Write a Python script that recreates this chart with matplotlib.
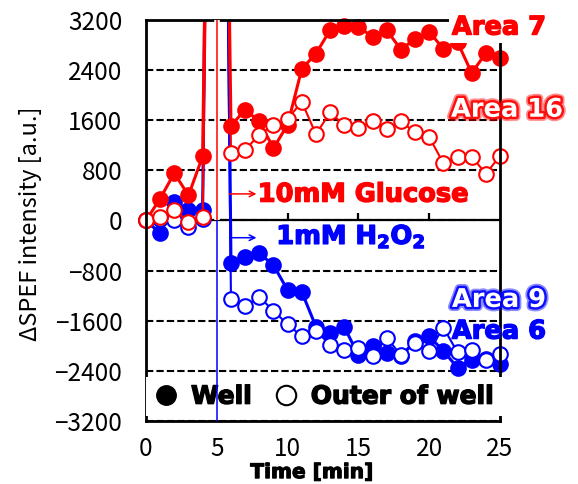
import matplotlib
matplotlib.use("Agg")
import matplotlib.pyplot as plt
import matplotlib.patheffects as pe
from matplotlib.lines import Line2D

# ---- data ----
time_min = list(range(0, 26))
# Area 7 (well, filled red)
area7_well = [0, 350, 755, 400, 1025, 18000, 1512, 1768, 1581, 1155, 1528, 2419, 2664,
              3037, 3112, 3091, 2931, 3037, 2728, 2899, 3011, 2739, 2845, 2355, 2670, 2600]
# Area 16 (outer of well, open red)
area16_outer = [0, 61, 168, -19, 50, 16000, 1085, 1128, 1368, 1528, 1619, 1895, 1376,
                1725, 1520, 1483, 1581, 1459, 1581, 1405, 1331, 915, 1021, 1021, 744, 1032]
# Area 6 (well, filled blue)
area6_well = [0, -205, 301, 168, 168, 22000, -685, -579, -525, -712, -1112, -1139, -1695,
              -1795, -1699, -2152, -2000, -2120, -2170, -1920, -1848, -2083, -2349, -2221, -2210, -2296]
# Area 9 (outer of well, open blue)
area9_outer = [0, 30, 0, -109, 30, 20000, -1261, -1368, -1219, -1443, -1656, -1850, -1760,
               -1985, -2060, -2030, -2170, -1870, -2150, -1960, -2080, -1709, -2105, -2065, -2230, -2130]

yticks = [-3200, -2400, -1600, -800, 0, 800, 1600, 2400, 3200]
xticks = [0, 5, 10, 15, 20, 25]
zero_ticks = [5, 10, 15, 20]
stim_time = 5

RED = "#FF0000"
BLUE = "#0000FF"
TICKFONT = ["Noto Sans CJK JP", "DejaVu Sans"]

def heavy(color, w=1.0):
    return [pe.Stroke(linewidth=w, foreground=color), pe.Normal()]

fig = plt.figure(figsize=(5.78, 4.84), dpi=100)
ax = fig.add_axes([0.2526, 0.1302, 0.6125, 0.8285])
ax.set_xlim(0, 25)
ax.set_ylim(-3200, 3200)

# grid
ax.set_yticks(yticks)
ax.set_xticks(xticks)
ax.grid(axis="y", color="black", lw=1.5, ls=(0, (3.5, 1.5)), zorder=0)
ax.set_axisbelow(True)
ax.axhline(0, color="black", lw=1.6, zorder=1)
ax.vlines(zero_ticks, 0, 115, color="black", lw=1.6, zorder=1)

def series(y, color, filled, lw):
    ax.plot(time_min, y, color=color, lw=lw, zorder=3)
    ax.plot(time_min, y, ls="none", marker="o", ms=10.5,
            mfc=color if filled else "white", mec=color, mew=1.5,
            zorder=3, clip_on=False)

series(area6_well, BLUE, True, 2.2)
series(area9_outer, BLUE, False, 1.5)
series(area7_well, RED, True, 2.2)
series(area16_outer, RED, False, 1.5)

# stimulus lines
stroke = [pe.Stroke(linewidth=4, foreground="white"), pe.Normal()]
ax.vlines([stim_time], 0, 3200, color=RED, lw=1.1, zorder=6, path_effects=stroke)
ax.vlines([stim_time], -3200, 0, color=BLUE, lw=1.1, zorder=6)

# annotations
ax.annotate("", xy=(7.8, 424), xytext=(5.9, 424),
            arrowprops=dict(arrowstyle="->", color=RED, lw=1.1, shrinkA=0, shrinkB=0), zorder=7)
ax.text(7.89, 301, "10mM Glucose", color=RED, fontsize=18.5, fontweight="bold",
        family="DejaVu Sans", ha="left", va="baseline", zorder=7, path_effects=heavy(RED))
ax.annotate("", xy=(7.8, -275), xytext=(5.9, -275),
            arrowprops=dict(arrowstyle="->", color=BLUE, lw=1.1, shrinkA=0, shrinkB=0), zorder=7)
ax.text(9.2, -376, r"1mM H$_\mathbf{2}$O$_\mathbf{2}$", color=BLUE, fontsize=18.5,
        fontweight="bold", family="DejaVu Sans", ha="left", va="baseline", zorder=7,
        path_effects=heavy(BLUE))

# area labels
ax.text(24.93, 2968, "Area 7", color=RED, fontsize=18.5, fontweight="bold", family="DejaVu Sans",
        ha="center", va="baseline", zorder=8, clip_on=False,
        bbox=dict(facecolor="white", edgecolor="none", pad=2), path_effects=heavy(RED))
ax.text(25.5, 1656, "Area 16", color="white", fontsize=18.5, fontweight="bold", family="DejaVu Sans",
        ha="center", va="baseline", zorder=8, clip_on=False,
        path_effects=[pe.Stroke(linewidth=6, foreground=RED, alpha=0.45),
                      pe.Stroke(linewidth=3.5, foreground=RED, alpha=0.9), pe.Normal()])
ax.text(24.93, -1379, "Area 9", color="white", fontsize=18.5, fontweight="bold", family="DejaVu Sans",
        ha="center", va="baseline", zorder=8, clip_on=False,
        path_effects=[pe.Stroke(linewidth=6, foreground=BLUE, alpha=0.45),
                      pe.Stroke(linewidth=3.5, foreground=BLUE, alpha=0.9), pe.Normal()])
ax.text(24.93, -1885, "Area 6", color=BLUE, fontsize=18.5, fontweight="bold", family="DejaVu Sans",
        ha="center", va="baseline", zorder=8, clip_on=False, path_effects=heavy(BLUE))

# legend
handles = [Line2D([], [], ls="none", marker="o", ms=14, mfc="black", mec="black"),
           Line2D([], [], ls="none", marker="o", ms=14, mfc="white", mec="black", mew=1.5)]
leg = ax.legend(handles, ["Well", "Outer of well"], ncol=2, loc="lower left",
                bbox_to_anchor=(0, 0.012), borderaxespad=0.0, borderpad=0.3,
                handlelength=1.0, handletextpad=0.5, columnspacing=0.85,
                frameon=True, fancybox=False, facecolor="white", edgecolor="none", framealpha=1,
                prop=dict(family="DejaVu Sans", weight="bold", size=18))
leg.set_zorder(5)
for t in leg.get_texts():
    t.set_path_effects(heavy("black"))

# spines & ticks
for s in ax.spines.values():
    s.set_linewidth(2)
    s.set_color("black")
    s.set_zorder(4)
ax.tick_params(axis="both", length=0)
ax.tick_params(axis="y", pad=17)
ax.tick_params(axis="x", pad=11)
for lab in ax.get_xticklabels() + ax.get_yticklabels():
    lab.set_family(TICKFONT)
    lab.set_fontsize(17.5)

ax.set_ylabel("ΔSPEF intensity [a.u.]", fontsize=17, family=TICKFONT)
ax.yaxis.set_label_coords(-0.294, 0.4925)
ax.set_xlabel("Time [min]", fontsize=14.5, fontweight="bold", family="DejaVu Sans",
              path_effects=heavy("black", 0.8))
ax.xaxis.set_label_coords(0.469, -0.105)

fig.savefig("out.png", dpi=100)
